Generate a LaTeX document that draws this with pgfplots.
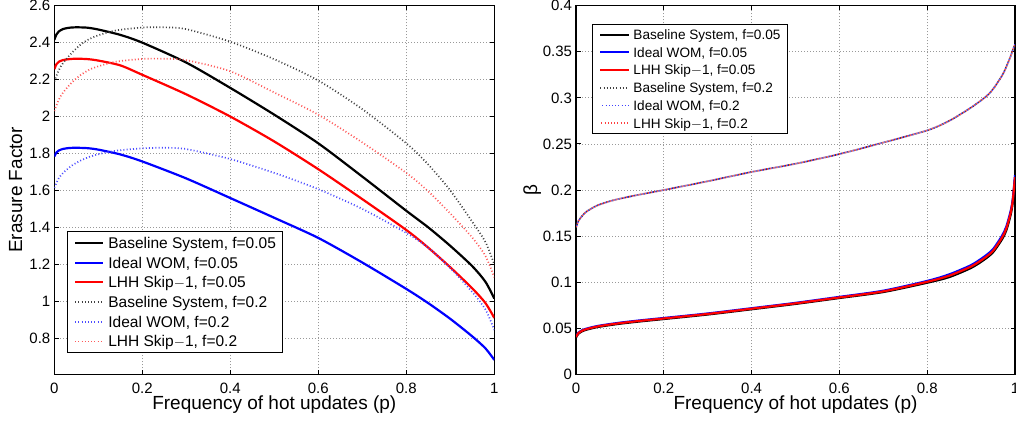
\documentclass[border=0pt]{standalone}
\usepackage{fontspec}
\setmainfont{Liberation Sans}
\usepackage{pgfplots}
\pgfplotsset{compat=1.18}
\pgfplotsset{
  mybase/.style={
    scale only axis, height=368.6pt,
    xmin=0, xmax=1,
    xtick={0,0.2,0.4,0.6,0.8,1},
    axis line style={line width=1.4pt},
    tick style={line width=0.9pt, black},
    major tick length=4.5pt,
    tick align=inside,
    grid=major,
    major grid style={line width=0.8pt, gray!80, dash pattern=on 1pt off 2pt},
    tick label style={font=\fontsize{15}{18}\selectfont},
    /pgf/number format/assume math mode=true,
    /pgf/number format/fixed,
    xticklabel style={inner sep=0pt, anchor=north, yshift=-8.3pt},
    yticklabel style={inner sep=0pt, anchor=east, xshift=-3.8pt},
    label style={font=\fontsize{19}{22}\selectfont},
    xlabel style={at={(axis description cs:0.5,0)}, anchor=base, inner sep=0pt, yshift=-35.5pt},
    legend cell align=left,
  },
  s05/.style={line width=2.2pt, smooth, tension=0.45},
  d2/.style={line width=1.7pt, dash pattern=on 1pt off 2.2pt, smooth, tension=0.45},
}
\begin{document}
\begin{tikzpicture}
\begin{axis}[mybase, width=440pt,
  at={(54.3pt,46.7pt)}, anchor=south west,
  ymin=0.605, ymax=2.6, ytick={0.8,1,1.2,1.4,1.6,1.8,2,2.2,2.4,2.6},
  xlabel={Frequency of hot updates (p)},
  ylabel={Erasure Factor},
  ylabel style={at={(axis description cs:-0.0734,0.5)}, anchor=base, inner sep=0pt},
  legend image code/.code={\draw[#1] (0pt,0pt) -- (27.7pt,0pt);},
  legend style={at={(0.0282,0.3888)}, anchor=north west, draw=black, line width=0.9pt,
    font=\fontsize{15.5}{18}\selectfont, inner xsep=7pt, inner ysep=6pt,
    nodes={inner sep=0pt, text height=11pt, text depth=0pt},
    row sep=8.7pt, column sep=4.3pt},
]
\addplot[s05, black] coordinates {(0,2.415)(0.005,2.445)(0.01,2.46)(0.02,2.474)(0.035,2.481)(0.05,2.483)(0.075,2.481)(0.1,2.471)(0.15,2.442)(0.2,2.40)(0.3,2.292)(0.4,2.155)(0.5,2.01)(0.6,1.855)(0.7,1.675)(0.8,1.49)(0.85,1.40)(0.9,1.30)(0.95,1.19)(0.98,1.105)(1,1.015)};
\addlegendentry{Baseline System, f=0.05}
\addplot[s05, blue] coordinates {(0,1.784)(0.005,1.806)(0.01,1.816)(0.02,1.825)(0.035,1.830)(0.05,1.831)(0.075,1.829)(0.1,1.821)(0.15,1.795)(0.2,1.757)(0.3,1.665)(0.4,1.559)(0.5,1.452)(0.6,1.343)(0.7,1.21)(0.8,1.067)(0.85,0.99)(0.9,0.905)(0.95,0.81)(0.98,0.745)(1,0.683)};
\addlegendentry{Ideal WOM, f=0.05}
\addplot[s05, red] coordinates {(0,2.256)(0.005,2.284)(0.01,2.296)(0.02,2.306)(0.035,2.311)(0.05,2.313)(0.075,2.311)(0.1,2.303)(0.15,2.277)(0.2,2.226)(0.3,2.12)(0.4,2.0)(0.5,1.865)(0.6,1.715)(0.7,1.553)(0.8,1.386)(0.85,1.29)(0.9,1.184)(0.95,1.07)(0.98,0.99)(1,0.91)};
\addlegendentry{LHH Skip$-$1, f=0.05}
\addplot[d2, black!75] coordinates {(0,2.19)(0.01,2.25)(0.02,2.29)(0.04,2.345)(0.06,2.39)(0.08,2.42)(0.1,2.44)(0.14,2.466)(0.2,2.482)(0.25,2.483)(0.3,2.473)(0.4,2.405)(0.5,2.31)(0.6,2.195)(0.7,2.04)(0.8,1.855)(0.85,1.74)(0.9,1.6)(0.95,1.43)(0.98,1.32)(1,1.2)};
\addlegendentry{Baseline System, f=0.2}
\addplot[d2, blue!70] coordinates {(0,1.615)(0.01,1.665)(0.02,1.695)(0.04,1.735)(0.06,1.762)(0.08,1.782)(0.1,1.796)(0.14,1.815)(0.2,1.828)(0.25,1.831)(0.3,1.824)(0.4,1.77)(0.5,1.695)(0.6,1.607)(0.7,1.50)(0.8,1.37)(0.85,1.29)(0.9,1.18)(0.95,1.05)(0.98,0.955)(1,0.845)};
\addlegendentry{Ideal WOM, f=0.2}
\addplot[d2, red!65] coordinates {(0,2.03)(0.01,2.09)(0.02,2.13)(0.04,2.185)(0.06,2.225)(0.08,2.254)(0.1,2.272)(0.14,2.297)(0.2,2.312)(0.25,2.313)(0.3,2.305)(0.4,2.245)(0.5,2.13)(0.6,2.01)(0.7,1.86)(0.8,1.695)(0.85,1.595)(0.9,1.475)(0.95,1.345)(0.98,1.245)(1,1.13)};
\addlegendentry{LHH Skip$-$1, f=0.2}
\end{axis}
\begin{axis}[mybase, width=439pt,
  at={(576pt,46.7pt)}, anchor=south west,
  ymin=0, ymax=0.4, ytick={0,0.05,0.1,0.15,0.2,0.25,0.3,0.35,0.4},
  yticklabel style={/pgf/number format/precision=2},
  xlabel={Frequency of hot updates (p)},
  ylabel={β},
  ylabel style={at={(axis description cs:-0.0888,0.5)}, anchor=base, inner sep=0pt},
  legend image code/.code={\draw[#1] (0pt,0pt) -- (28.7pt,0pt);},
  legend style={at={(0.0371,0.9495)}, anchor=north west, draw=black, line width=0.9pt,
    font=\fontsize{13.6}{16}\selectfont, inner xsep=6.5pt, inner ysep=5pt,
    nodes={inner sep=0pt, text height=9.8pt, text depth=0pt},
    row sep=7.9pt, column sep=3.3pt},
]
\addplot[s05, black] coordinates {(0,0.0400)(0.005,0.0439)(0.01,0.0456)(0.02,0.0479)(0.05,0.0514)(0.1,0.0549)(0.15,0.0576)(0.2,0.0600)(0.3,0.0649)(0.4,0.0706)(0.5,0.0764)(0.6,0.0828)(0.7,0.0893)(0.8,0.0994)(0.85,0.1055)(0.9,0.1155)(0.93,0.1245)(0.95,0.1325)(0.97,0.1462)(0.98,0.1560)(0.99,0.1730)(0.995,0.1870)(1,0.212)};
\addlegendentry{Baseline System, f=0.05}
\addplot[s05, blue] coordinates {(0,0.0410)(0.005,0.0450)(0.01,0.0467)(0.02,0.0490)(0.05,0.0525)(0.1,0.0560)(0.15,0.0587)(0.2,0.0611)(0.3,0.0660)(0.4,0.0717)(0.5,0.0775)(0.6,0.0840)(0.7,0.0907)(0.8,0.1013)(0.85,0.1084)(0.9,0.1185)(0.93,0.1277)(0.95,0.1358)(0.97,0.1500)(0.98,0.1600)(0.99,0.1770)(0.995,0.1905)(1,0.216)};
\addlegendentry{Ideal WOM, f=0.05}
\addplot[s05, red] coordinates {(0,0.0405)(0.005,0.0445)(0.01,0.0462)(0.02,0.0485)(0.05,0.0520)(0.1,0.0555)(0.15,0.0582)(0.2,0.0606)(0.3,0.0655)(0.4,0.0712)(0.5,0.0770)(0.6,0.0834)(0.7,0.0900)(0.8,0.1004)(0.85,0.1070)(0.9,0.1170)(0.93,0.1260)(0.95,0.1340)(0.97,0.1480)(0.98,0.1580)(0.99,0.1750)(0.995,0.1890)(1,0.214)};
\addlegendentry{LHH Skip$-$1, f=0.05}
\addplot[d2, black!75] coordinates {(0,0.159)(0.005,0.166)(0.01,0.1695)(0.02,0.175)(0.03,0.1785)(0.05,0.1835)(0.075,0.1875)(0.1,0.1906)(0.15,0.1955)(0.2,0.2)(0.3,0.2095)(0.4,0.2196)(0.5,0.2285)(0.6,0.239)(0.7,0.2515)(0.8,0.2647)(0.85,0.275)(0.9,0.2895)(0.935,0.3018)(0.95,0.3095)(0.965,0.32)(0.975,0.328)(0.984,0.338)(0.99,0.345)(0.995,0.352)(1,0.358)};
\addlegendentry{Baseline System, f=0.2}
\addplot[d2, blue!75, dash phase=1.07pt] coordinates {(0,0.159)(0.005,0.166)(0.01,0.1695)(0.02,0.175)(0.03,0.1785)(0.05,0.1835)(0.075,0.1875)(0.1,0.1906)(0.15,0.1955)(0.2,0.2)(0.3,0.2095)(0.4,0.2196)(0.5,0.2285)(0.6,0.239)(0.7,0.2515)(0.8,0.2647)(0.85,0.275)(0.9,0.2895)(0.935,0.3018)(0.95,0.3095)(0.965,0.32)(0.975,0.328)(0.984,0.338)(0.99,0.345)(0.995,0.352)(1,0.358)};
\addlegendentry{Ideal WOM, f=0.2}
\addplot[d2, red!75, dash phase=2.14pt] coordinates {(0,0.159)(0.005,0.166)(0.01,0.1695)(0.02,0.175)(0.03,0.1785)(0.05,0.1835)(0.075,0.1875)(0.1,0.1906)(0.15,0.1955)(0.2,0.2)(0.3,0.2095)(0.4,0.2196)(0.5,0.2285)(0.6,0.239)(0.7,0.2515)(0.8,0.2647)(0.85,0.275)(0.9,0.2895)(0.935,0.3018)(0.95,0.3095)(0.965,0.32)(0.975,0.328)(0.984,0.338)(0.99,0.345)(0.995,0.352)(1,0.358)};
\addlegendentry{LHH Skip$-$1, f=0.2}
\end{axis}
\pgfresetboundingbox
\useasboundingbox (0pt,0pt) rectangle (1016pt,421pt);
\end{tikzpicture}
\end{document}
